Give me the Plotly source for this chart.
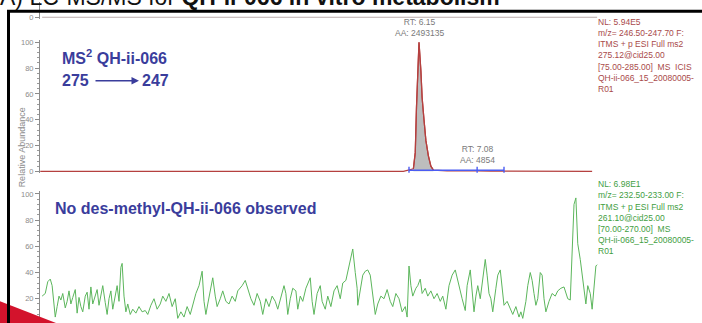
import plotly.graph_objects as go

W, H = 702, 323

# ---------------- data ----------------
# Trace A: MS2 275 -> 247 (QH-ii-066), retention time (min) vs relative abundance (%)
top_time = [0.09, 5.90, 6.06, 6.09, 6.11, 6.14, 6.15, 6.18, 6.20, 6.23, 6.26, 6.30, 6.34, 6.38, 6.60, 7.08, 7.30, 8.92]
top_abund = [0.0, 0.0, 2.0, 14.5, 50.0, 85.0, 100.0, 78.0, 57.0, 40.0, 24.0, 12.0, 4.0, 1.0, 0.3, 0.4, 0.2, 0.0]

# integration window of the detected peaks
integ_time = [5.99, 7.08, 7.51]
integ_abund = [0.8, 0.8, 0.8]

peak_rt = [6.15, 7.08]
peak_area = [2493135, 4854]
peak_label_level = [100, 0]

# Trace B: MS2 261 -> 233 (des-methyl QH-ii-066), noise only
green_time = [
    0.12, 0.17, 0.21, 0.25, 0.28, 0.33, 0.36, 0.39, 0.42, 0.45,
    0.49, 0.52, 0.55, 0.58, 0.61, 0.65, 0.68, 0.71, 0.74, 0.77,
    0.81, 0.84, 0.87, 0.90, 0.93, 0.97, 1.00, 1.03, 1.06, 1.09,
    1.13, 1.16, 1.19, 1.22, 1.25, 1.29, 1.32, 1.35, 1.38, 1.40,
    1.43, 1.46, 1.49, 1.53, 1.57, 1.62, 1.67, 1.72, 1.77, 1.81,
    1.86, 1.91, 1.96, 2.01, 2.05, 2.10, 2.15, 2.20, 2.25, 2.29,
    2.34, 2.39, 2.44, 2.49, 2.53, 2.58, 2.63, 2.68, 2.71, 2.74,
    2.77, 2.82, 2.85, 2.89, 2.92, 2.97, 3.01, 3.06, 3.11, 3.16,
    3.21, 3.25, 3.32, 3.37, 3.41, 3.46, 3.51, 3.56, 3.61, 3.65,
    3.70, 3.75, 3.80, 3.85, 3.89, 3.94, 3.99, 4.02, 4.05, 4.09,
    4.13, 4.18, 4.21, 4.25, 4.29, 4.34, 4.37, 4.41, 4.44, 4.47,
    4.52, 4.57, 4.60, 4.65, 4.69, 4.74, 4.79, 4.84, 4.89, 4.93,
    4.98, 5.03, 5.06, 5.09, 5.13, 5.16, 5.17, 5.22, 5.25, 5.29,
    5.33, 5.37, 5.40, 5.45, 5.49, 5.54, 5.59, 5.64, 5.69, 5.73,
    5.78, 5.83, 5.88, 5.93, 5.96, 5.99, 6.02, 6.05, 6.10, 6.13,
    6.17, 6.20, 6.25, 6.29, 6.34, 6.39, 6.44, 6.49, 6.53, 6.58,
    6.63, 6.68, 6.73, 6.76, 6.79, 6.84, 6.89, 6.92, 6.97, 7.00,
    7.03, 7.06, 7.09, 7.13, 7.17, 7.21, 7.24, 7.27, 7.30, 7.33,
    7.38, 7.41, 7.45, 7.48, 7.51, 7.56, 7.61, 7.65, 7.70, 7.75,
    7.78, 7.81, 7.86, 7.89, 7.93, 7.96, 7.99, 8.02, 8.05, 8.09,
    8.12, 8.15, 8.18, 8.23, 8.28, 8.33, 8.37, 8.42, 8.47, 8.50,
    8.53, 8.57, 8.60, 8.63, 8.66, 8.69, 8.73, 8.76, 8.79, 8.82,
    8.85, 8.89, 8.92, 8.95, 8.98, 9.00,
]
green_abund = [
    22, 24, 33, 35, 30, 6, 14, 22, 19, 24,
    13, 18, 26, 16, 21, 27, 9, 21, 14, 10,
    22, 25, 12, 29, 16, 22, 27, 15, 24, 30,
    17, 8, 20, 26, 12, 22, 30, 18, 44, 47,
    22, 10, 16, 8, 12, 9, 14, 10, 11, 8,
    15, 20, 12, 16, 22, 18, 24, 14, 20, 5,
    10, 6, 14, 8, 16, 24, 30, 41, 18, 8,
    16, 30, 36, 22, 14, 20, 26, 18, 16, 22,
    18, 26, 30, 34, 28, 20, 15, 24, 18, 8,
    20, 14, 22, 18, 12, 22, 30, 24, 8, 20,
    28, 26, 12, 22, 18, 28, 32, 36, 18, 8,
    24, 30, 18, 12, 22, 14, 26, 30, 20, 32,
    34, 44, 50, 58, 40, 28, 15, 30, 38, 41,
    42, 38, 26, 8, 16, 22, 20, 27, 18, 14,
    24, 20, 10, 14, 6, 45, 30, 22, 28, 30,
    35, 24, 28, 22, 26, 20, 24, 18, 22, 12,
    30, 38, 42, 36, 28, 20, 11, 30, 42, 28,
    10, 22, 30, 20, 36, 50, 38, 24, 20, 10,
    28, 38, 42, 30, 15, 18, 12, 8, 14, 6,
    10, 5, 18, 30, 40, 34, 24, 15, 20, 40,
    38, 20, 10, 18, 24, 22, 26, 28, 29, 24,
    20, 19, 60, 92, 97, 62, 50, 38, 28, 16,
    30, 24, 12, 30, 45, 46,
]

# baseline of the preceding trace in the stack
prev_time = [0.12, 9.00]
prev_abund = [0, 0]

top_info = ["NL: 5.94E5", "m/z= 246.50-247.70 F:", "ITMS + p ESI Full ms2",
            "275.12@cid25.00", "[75.00-285.00]  MS  ICIS",
            "QH-ii-066_15_20080005-", "R01"]
bottom_info = ["NL: 6.98E1", "m/z= 232.50-233.00 F:", "ITMS + p ESI Full ms2",
               "261.10@cid25.00", "[70.00-270.00]  MS",
               "QH-ii-066_15_20080005-", "R01"]

# ---------------- styling helpers ----------------
FONT = "Liberation Sans, Arial, sans-serif"
RED = "#b5403f"
GREEN = "#5cb65c"
BLUE_TXT = "#3a3d9c"
BLUE_INT = "#4b5cf2"


def px(x):
    return x / W


def py(y):
    return 1 - y / H


X_RANGE = [0.086, 9.014]
X_DOMAIN = [px(40), px(598)]


def y_axis(domain, rng, minor=True):
    ax = dict(
        domain=domain, range=rng, tickmode="linear", tick0=0, dtick=20,
        ticks="outside", ticklen=4, tickwidth=1, tickcolor="#8c8c8c",
        tickfont=dict(family=FONT, size=7.5, color="#8c8c8c"),
        showline=True, linecolor="#8c8c8c", linewidth=1,
        showgrid=False, zeroline=False, fixedrange=True,
    )
    if minor:
        ax["minor"] = dict(tick0=0, dtick=4, ticks="outside", ticklen=2,
                           tickcolor="#9a9a9a", showgrid=False)
    return ax


def x_axis(anchor):
    return dict(domain=X_DOMAIN, range=X_RANGE, anchor=anchor, visible=False,
                showgrid=False, zeroline=False, fixedrange=True)


# panel A: 0% at y=172 px, 100% at y=41 px
ppu_a = (172 - 41) / 100
dom_a = [py(172 + 1 * ppu_a), py(41 - 2 * ppu_a)]
# panel B: 0% at y=328 px, 100% at y=195 px (bottom cut by the frame)
ppu_b = (328 - 195) / 100
low_b = (328 - H) / ppu_b
dom_b = [0, py(195 - 2 * ppu_b)]

fig = go.Figure()

# preceding trace baseline
fig.add_trace(go.Scatter(x=prev_time, y=prev_abund, xaxis="x3", yaxis="y3",
                         mode="lines", line=dict(color="#b9aaaa", width=1),
                         hoverinfo="skip"))

# panel A: shaded main peak
win = [(t, a) for t, a in zip(top_time, top_abund) if integ_time[0] <= t <= 6.40]
fig.add_trace(go.Scatter(x=[t for t, _ in win], y=[a for _, a in win],
                         xaxis="x", yaxis="y", mode="lines", fill="tozeroy",
                         fillcolor="#bdbdbd", line=dict(color=RED, width=1.2),
                         hoverinfo="skip"))
fig.add_trace(go.Scatter(x=top_time, y=top_abund, xaxis="x", yaxis="y",
                         mode="lines", line=dict(color=RED, width=1.3),
                         hoverinfo="skip"))
fig.add_trace(go.Scatter(x=integ_time, y=integ_abund, xaxis="x", yaxis="y",
                         mode="lines+markers",
                         line=dict(color=BLUE_INT, width=1.4),
                         marker=dict(symbol="line-ns", size=5,
                                     line=dict(color=BLUE_INT, width=1.4)),
                         hoverinfo="skip"))

# panel B
fig.add_trace(go.Scatter(x=green_time, y=green_abund, xaxis="x2", yaxis="y2",
                         mode="lines", line=dict(color=GREEN, width=1),
                         hoverinfo="skip"))

annotations = []

# peak labels
for rt, area, lvl, shift in zip(peak_rt, peak_area, peak_label_level, [2, 4]):
    annotations.append(dict(
        x=rt, y=lvl, xref="x", yref="y", text=f"RT: {rt:.2f}<br>AA: {area}",
        showarrow=False, xanchor="center", yanchor="bottom", yshift=shift,
        font=dict(family=FONT, size=8.5, color="#7a7a7a")))

# scan information blocks
for lines, y0, col in [(top_info, 20, "#a94a4a"), (bottom_info, 185, "#3f9e3f")]:
    for i, s in enumerate(lines):
        annotations.append(dict(
            x=px(596), y=py(y0 + i * 11.4), xref="paper", yref="paper",
            text=s, showarrow=False, xanchor="left", yanchor="middle",
            font=dict(family=FONT, size=8.5, color=col)))

# axis title
annotations.append(dict(x=px(15), y=py(105), xref="paper", yref="paper",
                        text="Relative Abundance", textangle=-90, showarrow=False,
                        font=dict(family=FONT, size=9, color="#8c8c8c")))

# blue captions
bold16 = dict(family=FONT, size=16, color=BLUE_TXT)
annotations += [
    dict(x=px(60), y=py(56), xref="paper", yref="paper", xanchor="left",
         yanchor="middle", text="<b>MS<sup>2</sup> QH-ii-066</b>",
         showarrow=False, font=bold16),
    dict(x=px(60), y=py(80), xref="paper", yref="paper", xanchor="left",
         yanchor="middle", text="<b>275</b>", showarrow=False, font=bold16),
    dict(x=px(140), y=py(80), xref="paper", yref="paper", xanchor="left",
         yanchor="middle", text="<b>247</b>", showarrow=False, font=bold16),
    dict(x=px(139), y=py(80), xref="paper", yref="paper", ax=-45, ay=0,
         text="", showarrow=True, arrowhead=2, arrowsize=1, arrowwidth=1.5,
         arrowcolor=BLUE_TXT),
    dict(x=px(53), y=py(209.5), xref="paper", yref="paper", xanchor="left",
         yanchor="middle", text="<b>No des-methyl-QH-ii-066 observed</b>",
         showarrow=False, font=bold16),
]

# slide heading (mostly above the visible area)
annotations.append(dict(
    x=px(-2), y=py(10), xref="paper", yref="paper", xanchor="left",
    yanchor="bottom", showarrow=False,
    text="A) LC-MS/MS for <b>QH-ii-066 in vitro metabolism</b>",
    font=dict(family=FONT, size=23, color="#111111")))

shapes = [
    # red slide decoration in the lower-left corner
    dict(type="path", xref="paper", yref="paper", layer="above",
         path=f"M {px(-5)},{py(302)} L {px(56)},{py(326)} L {px(-5)},{py(326)} Z",
         fillcolor="#d3132c", line=dict(width=0)),
    # frame around the chromatograms
    dict(type="rect", xref="paper", yref="paper", layer="above",
         x0=px(8.5), x1=px(720), y0=py(340), y1=py(9.5),
         line=dict(color="#000000", width=3), fillcolor="rgba(0,0,0,0)"),
]

fig.update_layout(
    width=W, height=H, margin=dict(l=0, r=0, t=0, b=0),
    paper_bgcolor="white", plot_bgcolor="rgba(0,0,0,0)",
    showlegend=False,
    xaxis=x_axis("y"), xaxis2=x_axis("y2"), xaxis3=x_axis("y3"),
    yaxis=dict(**y_axis(dom_a, [-1, 102]), anchor="x"),
    yaxis2=dict(**y_axis(dom_b, [low_b, 102]), anchor="x2"),
    yaxis3=dict(**y_axis([py(17), 1], [-1.5, 15.5], minor=False), anchor="x3"),
    annotations=annotations, shapes=shapes,
)

fig.write_html("out.html")
